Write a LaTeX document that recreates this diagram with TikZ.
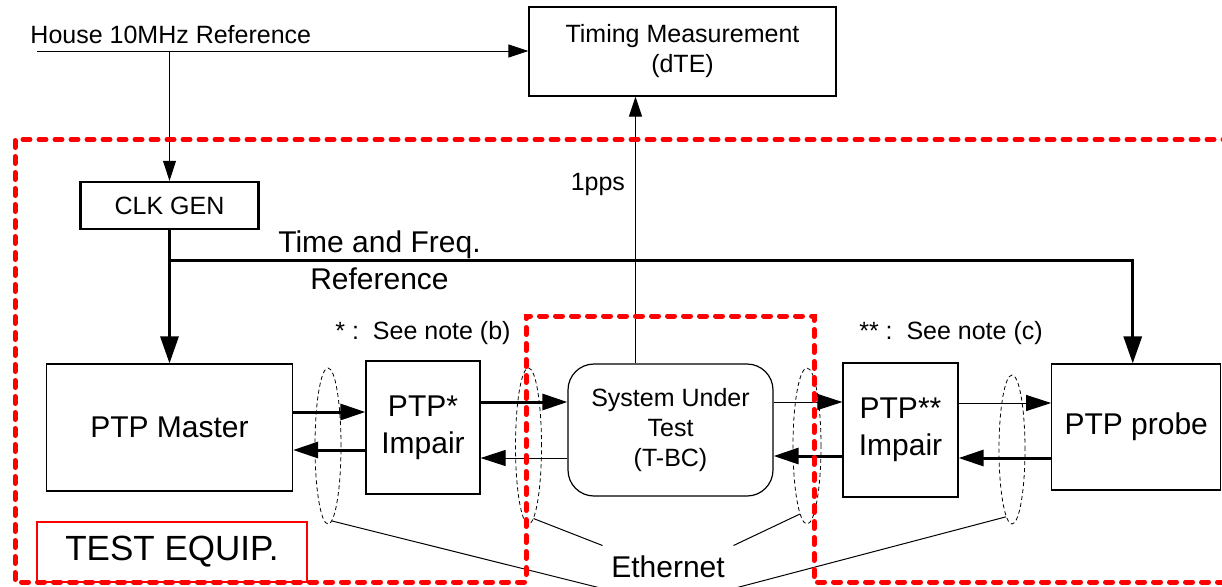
\documentclass[tikz,border=0pt]{standalone}
\usepackage{fontspec}
\setmainfont{Liberation Sans}
\usetikzlibrary{arrows.meta}
\usetikzlibrary{shapes.geometric}
\newcommand{\txtS}{\fontsize{12.5}{15}\selectfont}
\newcommand{\txtL}{\fontsize{15}{18.5}\selectfont}

\begin{document}
\begin{tikzpicture}[x=0.5pt, y=-0.5pt, line width=0.5pt, font=\txtS,
    >={Triangle[length=10pt, width=6.5pt]}]
  \tikzset{plainbox/.style = { draw, rectangle, line width=0.6pt, align=center, inner sep=0pt }}
  \tikzset{cable/.style = { draw, ellipse, line width=0.4pt, dash pattern=on 2pt off 1.5pt, minimum width=13pt, inner sep=0pt }}
  \tikzset{bus/.style = { line width=1.5pt, -{Triangle[length=13.5pt, width=9pt]} }}
  \tikzset{link/.style = { line width=0.5pt, -{Triangle[length=12.5pt, width=8pt]} }}
  \tikzset{fatlink/.style = { line width=1.5pt, -{Triangle[length=12.5pt, width=8pt]} }}
  \tikzset{zone/.style = { red, line width=2.5pt, line cap=round, dash pattern=on 3.5pt off 4.5pt }}
  \useasboundingbox (0,0) rectangle (1222,586);

  \node[name = tm, plainbox, minimum width=153.5pt, minimum height=44.5pt] at (682.5,51.5) {Timing Measurement\\(dTE)};
  \node[name = hslabel, anchor=base west, inner sep=0pt] at (30,43) {House 10MHz Reference};
  \coordinate (hsin) at (37,51);
  \node[name = clk, plainbox, line width=1.2pt, minimum width=89pt, minimum height=23.5pt] at (169.5,205.5) {CLK GEN};

  \draw [->] (hsin) -- (hsin -| tm.west);
  \draw [->] (hsin -| clk.north) -- (clk.north);

  % boxes of the test bed
  \node[name = master, plainbox, font=\txtL, minimum width=123pt, minimum height=63.5pt] at (169.5,427.5) {PTP Master};
  \node[name = imp1, plainbox, font=\txtL, minimum width=57pt, minimum height=66.5pt] at (423,427.5) {PTP*\\Impair};
  \node[name = sut, plainbox, rounded corners=13pt, minimum width=102.5pt, minimum height=66pt] at (670.5,430) {System Under\\Test\\(T-BC)};
  \node[name = imp2, plainbox, font=\txtL, minimum width=57.5pt, minimum height=67pt] at (900.5,430) {PTP**\\Impair};
  \node[name = probe, plainbox, font=\txtL, minimum width=84.5pt, minimum height=63pt] at (1136.25,427) {PTP probe};

  \node[name = noteb] at (423,333) {* :~~See note (b)};
  \node[name = notec] at (951,333) {** :~~See note (c)};

  % time and freq. reference
  \coordinate (tfjoin) at ([yshift=-15pt]clk.south);
  \draw [line width=1.5pt] (clk.south) -- (tfjoin);
  \draw [bus] (tfjoin) -- (tfjoin |- master.north);
  \draw [bus] (tfjoin) -| ([xshift=-1.75pt]probe.north)
    node[name = tfup, pos=0.109, above=0pt, inner sep=0pt, font=\txtL]{Time and Freq.}
    node[name = tfdown, pos=0.109, below=3pt, inner sep=0pt, font=\txtL]{Reference};

  % 1pps out of the SUT
  \draw [->] ([xshift=-17.5pt]sut.north) -- ([xshift=-17.5pt]sut.north |- tm.south)
    node[name = pps, pos=0.67, left=5pt, inner sep=0pt]{1pps};

  % PTP messages both ways
  \draw [fatlink] ([yshift=7.75pt]master.east) -- ([yshift=7.75pt]master.east -| imp1.west);
  \draw [fatlink] ([yshift=-11.25pt]imp1.west) -- ([yshift=-11.25pt]imp1.west -| master.east);
  \draw [fatlink] ([yshift=12.75pt]imp1.east) -- ([yshift=12.75pt]imp1.east -| sut.west);
  \draw [link] ([yshift=-14pt]sut.west) -- ([yshift=-14pt]sut.west -| imp1.east);
  \draw [link] ([yshift=14pt]sut.east) -- ([yshift=14pt]sut.east -| imp2.west);
  \draw [fatlink] ([yshift=-13pt]imp2.west) -- ([yshift=-13pt]imp2.west -| sut.east);
  \draw [link] ([yshift=13.5pt]imp2.east) -- ([yshift=13.5pt]imp2.east -| probe.west);
  \draw [fatlink] ([yshift=-15.5pt]probe.west) -- ([yshift=-15.5pt]probe.west -| imp2.east);

  % ethernet links
  \node[name = e1, cable, minimum height=78pt] at (328,446) {};
  \node[name = e2, cable, minimum height=78pt] at (528.5,446) {};
  \node[name = e3, cable, minimum width=14pt, minimum height=78pt] at (807,446) {};
  \node[name = e4, cable, minimum height=74.5pt] at (1012,449.5) {};
  \node[name = eth, font=\txtL, inner sep=0pt, minimum width=65pt, minimum height=21pt] at (668,567) {Ethernet};
  \draw (e1.-87) -- (eth.south west);
  \draw (e2.-86) -- (eth.north west);
  \draw (e3.-96) -- (eth.north east);
  \draw (e4.-95) -- (eth.south east);

  % test equipment area
  \node[name = testeq, draw=red, line width=0.75pt, font=\fontsize{17.5}{20}\selectfont, minimum width=135pt, minimum height=30pt, inner sep=0pt] at (172,552) {TEST EQUIP.};
  \draw [zone] (1230,139.5) -- (15,139.5) -- (15,582) -- (526,582) -- (526,316) -- (814,316) -- (814,582) -- (1230,582);
\end{tikzpicture}
\end{document}
